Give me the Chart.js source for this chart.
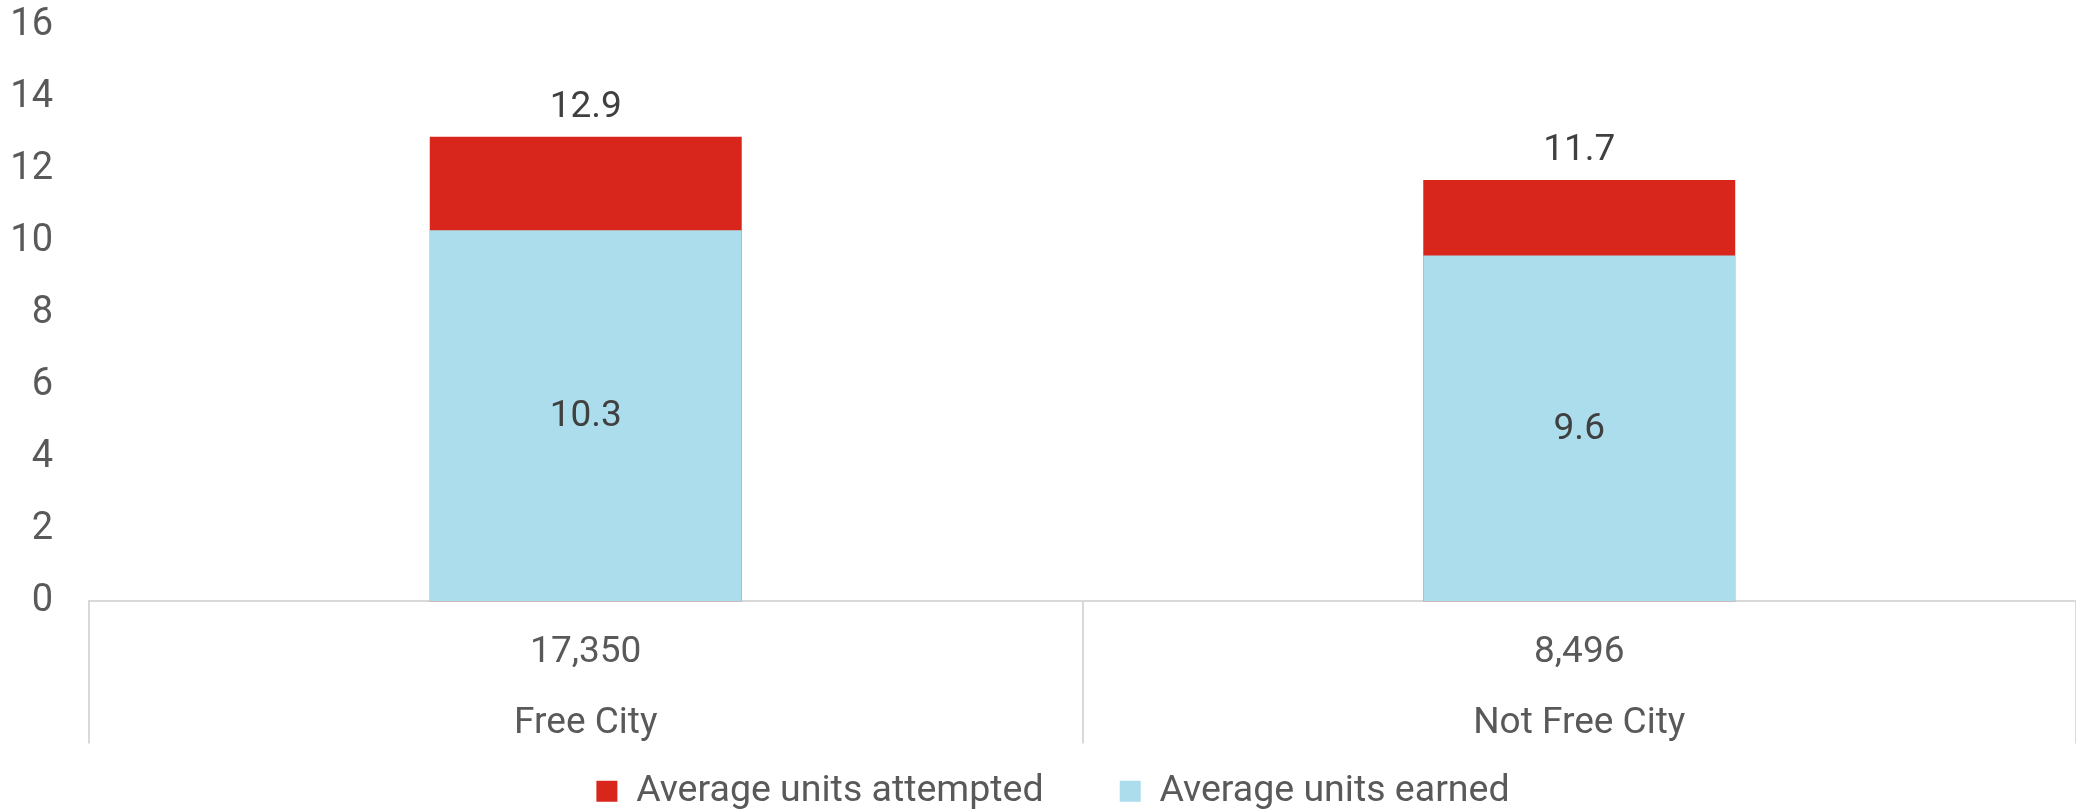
<!DOCTYPE html>
<html>
<head>
<meta charset="utf-8">
<script src="https://cdn.jsdelivr.net/npm/chart.js@4/dist/chart.umd.min.js"></script>
<style>
  html, body { margin: 0; padding: 0; background: #fff; }
  #wrap { width: 2076px; height: 809px; }
</style>
</head>
<body>
<div id="wrap"><canvas id="unitsChart"></canvas></div>
<script>
// data
const cities = ['Free City', 'Not Free City'];
const students = ['17,350', '8,496'];
const unitsEarned = [10.3, 9.6];
const unitsAttempted = [12.9, 11.7];
const yTicks = [0, 2, 4, 6, 8, 10, 12, 14, 16];

let red = '#D9261C';
let blue = '#ABDDED';
let axisGrey = '#D9D9D9';
let textGrey = '#595959';
let labelDark = '#404040';

// value labels: earned in the middle of the bar, attempted above it
const valueLabels = {
  id: 'valueLabels',
  afterDatasetsDraw(chart) {
    const ctx = chart.ctx;
    ctx.save();
    ctx.font = '37px Roboto';
    ctx.fillStyle = labelDark;
    ctx.textAlign = 'center';
    ctx.textBaseline = 'middle';
    chart.data.datasets.forEach((ds, i) => {
      chart.getDatasetMeta(i).data.forEach((bar, j) => {
        const v = ds.data[j].toFixed(1);
        if (ds.label === 'Average units earned') {
          ctx.fillText(v, bar.x, (bar.y + bar.base) / 2 + 1);
        } else {
          ctx.fillText(v, bar.x, bar.y - 29);
        }
      });
    });
    ctx.restore();
  }
};

// category dividers hanging below the x axis
const categoryDividers = {
  id: 'categoryDividers',
  afterLayout(chart) {
    // nudge the legend a bit to the right
    chart.legend.left += 15;
    chart.legend.right += 15;
  },
  afterDraw(chart) {
    const x = chart.scales.x;
    const ctx = chart.ctx;
    const half = (x.getPixelForValue(1) - x.getPixelForValue(0)) / 2;
    ctx.save();
    ctx.strokeStyle = axisGrey;
    ctx.lineWidth = 2;
    ctx.beginPath();
    for (let i = 0; i <= cities.length; i++) {
      const px = Math.round(x.getPixelForValue(i) - half);
      ctx.moveTo(px, x.top);
      ctx.lineTo(px, x.top + 142);
    }
    ctx.stroke();
    ctx.restore();
  }
};

const config = {
  type: 'bar',
  data: {
    labels: cities.map((c, i) => [students[i], c]),
    datasets: [
      {
        label: 'Average units earned',
        data: unitsEarned,
        backgroundColor: blue,
        grouped: false,
        barPercentage: 0.314,
        categoryPercentage: 1
      },
      {
        label: 'Average units attempted',
        data: unitsAttempted,
        backgroundColor: red,
        grouped: false,
        barPercentage: 0.314,
        categoryPercentage: 1
      }
    ]
  },
  options: {
    responsive: true,
    maintainAspectRatio: false,
    animation: false,
    layout: { padding: { top: 0, right: 0, left: 0, bottom: -11 } },
    plugins: {
      legend: {
        position: 'bottom',
        reverse: true,
        labels: {
          boxWidth: 21,
          boxHeight: 21,
          padding: 11,
          color: textGrey,
          font: { family: 'Roboto', size: 37.5 },
          generateLabels(chart) {
            const items = Chart.defaults.plugins.legend.labels.generateLabels(chart);
            // widen the gap after the first legend entry shown
            items.forEach(it => { if (it.datasetIndex === 1) it.text += '       '; });
            return items;
          }
        }
      },
      tooltip: { enabled: false }
    },
    scales: {
      x: {
        offset: true,
        afterFit: (scale) => { scale.height -= 14; },
        border: { display: true, color: axisGrey, width: 2 },
        grid: { display: false, drawTicks: false },
        ticks: {
          color: textGrey,
          padding: 16,
          font: { family: 'Roboto', size: 37, lineHeight: 1.92 }
        }
      },
      y: {
        min: 0,
        max: 16,
        afterBuildTicks: (scale) => { scale.ticks = yTicks.map(v => ({ value: v })); },
        afterFit: (scale) => {
          scale.width = 89;
          scale.paddingTop = 25;
          scale.paddingBottom = 25;
        },
        border: { display: false },
        grid: { display: false, drawTicks: false },
        ticks: {
          color: textGrey,
          padding: 36,
          font: { family: 'Roboto', size: 38 }
        }
      }
    }
  },
  plugins: [valueLabels, categoryDividers]
};

new Chart(document.getElementById('unitsChart'), config);
</script>
</body>
</html>
